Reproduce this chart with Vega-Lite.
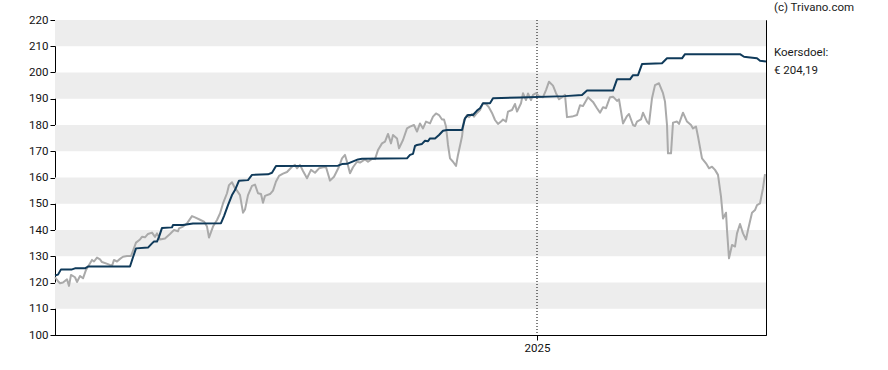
{
  "$schema": "https://vega.github.io/schema/vega-lite/v6.json",
  "width": 711,
  "height": 315,
  "autosize": {"type": "none"},
  "padding": {"left": 55, "top": 20, "right": 122, "bottom": 35},
  "background": "white",
  "config": {
    "view": {"stroke": "#000000", "strokeWidth": 1},
    "font": "Roboto",
    "axis": {"labelFont": "Roboto", "labelFontSize": 11.5, "labelColor": "#111111", "domainColor": "#000000", "tickColor": "#000000", "grid": false, "title": null, "tickSize": 5, "labelPadding": 2, "labelOverlap": false, "labelFlush": false},
    "axisY": {"values": [100, 110, 120, 130, 140, 150, 160, 170, 180, 190, 200, 210, 220], "tickCount": 12, "labelOverlap": false}
  },
  "datasets": {
    "bands": [
      {"lo": 110, "hi": 120}, {"lo": 130, "hi": 140}, {"lo": 150, "hi": 160},
      {"lo": 170, "hi": 180}, {"lo": 190, "hi": 200}, {"lo": 210, "hi": 220}
    ],
    "koers": [
      {"d": "2023-09-07", "v": 122.0}, {"d": "2023-09-10", "v": 120.5}, {"d": "2023-09-12", "v": 119.7}, {"d": "2023-09-15", "v": 120.0},
      {"d": "2023-09-19", "v": 121.2}, {"d": "2023-09-21", "v": 118.7}, {"d": "2023-09-23", "v": 122.9}, {"d": "2023-09-27", "v": 122.0},
      {"d": "2023-09-29", "v": 120.2}, {"d": "2023-10-02", "v": 122.5}, {"d": "2023-10-05", "v": 121.6}, {"d": "2023-10-08", "v": 124.8},
      {"d": "2023-10-11", "v": 126.7}, {"d": "2023-10-14", "v": 128.6}, {"d": "2023-10-16", "v": 128.0}, {"d": "2023-10-19", "v": 129.5},
      {"d": "2023-10-22", "v": 128.8}, {"d": "2023-10-24", "v": 127.8}, {"d": "2023-10-30", "v": 127.0}, {"d": "2023-11-03", "v": 126.3},
      {"d": "2023-11-05", "v": 128.6}, {"d": "2023-11-08", "v": 128.0}, {"d": "2023-11-11", "v": 129.0}, {"d": "2023-11-14", "v": 129.8},
      {"d": "2023-11-18", "v": 130.1}, {"d": "2023-11-22", "v": 130.1}, {"d": "2023-11-24", "v": 132.1}, {"d": "2023-11-27", "v": 135.2},
      {"d": "2023-12-01", "v": 136.4}, {"d": "2023-12-03", "v": 137.4}, {"d": "2023-12-06", "v": 137.2}, {"d": "2023-12-09", "v": 138.5},
      {"d": "2023-12-13", "v": 139.0}, {"d": "2023-12-16", "v": 137.4}, {"d": "2023-12-18", "v": 138.7}, {"d": "2023-12-21", "v": 136.4},
      {"d": "2023-12-26", "v": 136.8}, {"d": "2023-12-31", "v": 138.5}, {"d": "2024-01-04", "v": 140.0}, {"d": "2024-01-08", "v": 139.5},
      {"d": "2024-01-09", "v": 140.6}, {"d": "2024-01-13", "v": 141.3}, {"d": "2024-01-17", "v": 142.5}, {"d": "2024-01-22", "v": 145.3},
      {"d": "2024-01-25", "v": 144.8}, {"d": "2024-01-30", "v": 143.9}, {"d": "2024-02-03", "v": 143.2}, {"d": "2024-02-06", "v": 141.3},
      {"d": "2024-02-08", "v": 137.1}, {"d": "2024-02-12", "v": 141.3}, {"d": "2024-02-16", "v": 143.8}, {"d": "2024-02-19", "v": 146.3},
      {"d": "2024-02-22", "v": 150.1}, {"d": "2024-02-26", "v": 154.0}, {"d": "2024-02-28", "v": 157.1}, {"d": "2024-03-02", "v": 158.2},
      {"d": "2024-03-05", "v": 155.9}, {"d": "2024-03-07", "v": 155.0}, {"d": "2024-03-10", "v": 153.3}, {"d": "2024-03-13", "v": 146.6},
      {"d": "2024-03-15", "v": 147.8}, {"d": "2024-03-18", "v": 153.3}, {"d": "2024-03-22", "v": 156.8}, {"d": "2024-03-25", "v": 157.3},
      {"d": "2024-03-28", "v": 154.0}, {"d": "2024-03-31", "v": 153.7}, {"d": "2024-04-02", "v": 150.4}, {"d": "2024-04-04", "v": 153.0},
      {"d": "2024-04-09", "v": 153.7}, {"d": "2024-04-12", "v": 155.0}, {"d": "2024-04-15", "v": 158.5}, {"d": "2024-04-18", "v": 160.6},
      {"d": "2024-04-22", "v": 161.5}, {"d": "2024-04-26", "v": 162.1}, {"d": "2024-05-01", "v": 164.1}, {"d": "2024-05-04", "v": 164.8},
      {"d": "2024-05-06", "v": 163.5}, {"d": "2024-05-09", "v": 164.8}, {"d": "2024-05-12", "v": 162.5}, {"d": "2024-05-16", "v": 159.7},
      {"d": "2024-05-20", "v": 162.9}, {"d": "2024-05-24", "v": 161.8}, {"d": "2024-05-28", "v": 163.5}, {"d": "2024-06-01", "v": 163.9},
      {"d": "2024-06-04", "v": 164.0}, {"d": "2024-06-08", "v": 158.8}, {"d": "2024-06-12", "v": 160.3}, {"d": "2024-06-17", "v": 164.1},
      {"d": "2024-06-20", "v": 167.3}, {"d": "2024-06-23", "v": 168.6}, {"d": "2024-06-25", "v": 166.0}, {"d": "2024-06-28", "v": 161.6},
      {"d": "2024-07-01", "v": 163.9}, {"d": "2024-07-05", "v": 166.0}, {"d": "2024-07-08", "v": 165.7}, {"d": "2024-07-13", "v": 166.9},
      {"d": "2024-07-16", "v": 166.0}, {"d": "2024-07-20", "v": 167.1}, {"d": "2024-07-23", "v": 167.0}, {"d": "2024-07-26", "v": 170.5},
      {"d": "2024-07-30", "v": 173.0}, {"d": "2024-08-02", "v": 173.7}, {"d": "2024-08-05", "v": 176.6}, {"d": "2024-08-08", "v": 173.0},
      {"d": "2024-08-10", "v": 176.2}, {"d": "2024-08-14", "v": 174.9}, {"d": "2024-08-16", "v": 171.1}, {"d": "2024-08-20", "v": 174.3},
      {"d": "2024-08-24", "v": 178.7}, {"d": "2024-08-27", "v": 179.4}, {"d": "2024-08-31", "v": 180.0}, {"d": "2024-09-03", "v": 177.5},
      {"d": "2024-09-06", "v": 180.6}, {"d": "2024-09-09", "v": 178.7}, {"d": "2024-09-12", "v": 181.3}, {"d": "2024-09-16", "v": 180.6},
      {"d": "2024-09-19", "v": 183.2}, {"d": "2024-09-22", "v": 184.4}, {"d": "2024-09-25", "v": 183.8}, {"d": "2024-09-28", "v": 182.1},
      {"d": "2024-09-30", "v": 182.1}, {"d": "2024-10-02", "v": 179.4}, {"d": "2024-10-04", "v": 172.4}, {"d": "2024-10-06", "v": 167.3},
      {"d": "2024-10-09", "v": 166.0}, {"d": "2024-10-12", "v": 164.4}, {"d": "2024-10-14", "v": 168.6}, {"d": "2024-10-18", "v": 175.6},
      {"d": "2024-10-20", "v": 181.9}, {"d": "2024-10-23", "v": 183.8}, {"d": "2024-10-25", "v": 183.0}, {"d": "2024-10-28", "v": 184.2},
      {"d": "2024-10-30", "v": 183.2}, {"d": "2024-11-02", "v": 184.6}, {"d": "2024-11-05", "v": 185.7}, {"d": "2024-11-08", "v": 188.3},
      {"d": "2024-11-11", "v": 188.0}, {"d": "2024-11-14", "v": 186.7}, {"d": "2024-11-17", "v": 184.6}, {"d": "2024-11-20", "v": 181.9},
      {"d": "2024-11-23", "v": 180.4}, {"d": "2024-11-26", "v": 181.3}, {"d": "2024-11-28", "v": 182.1}, {"d": "2024-12-01", "v": 181.3},
      {"d": "2024-12-03", "v": 185.1}, {"d": "2024-12-07", "v": 185.7}, {"d": "2024-12-10", "v": 188.0}, {"d": "2024-12-12", "v": 185.1},
      {"d": "2024-12-16", "v": 188.3}, {"d": "2024-12-18", "v": 192.1}, {"d": "2024-12-21", "v": 189.5}, {"d": "2024-12-23", "v": 192.0},
      {"d": "2024-12-26", "v": 189.5}, {"d": "2024-12-28", "v": 191.5}, {"d": "2024-12-31", "v": 192.1}, {"d": "2025-01-03", "v": 191.0},
      {"d": "2025-01-07", "v": 190.6}, {"d": "2025-01-10", "v": 193.3}, {"d": "2025-01-13", "v": 196.5}, {"d": "2025-01-17", "v": 195.0},
      {"d": "2025-01-20", "v": 192.1}, {"d": "2025-01-23", "v": 189.8}, {"d": "2025-01-27", "v": 190.8}, {"d": "2025-01-29", "v": 191.5},
      {"d": "2025-01-31", "v": 183.0}, {"d": "2025-02-05", "v": 183.2}, {"d": "2025-02-10", "v": 183.8}, {"d": "2025-02-13", "v": 187.5},
      {"d": "2025-02-16", "v": 187.2}, {"d": "2025-02-21", "v": 190.6}, {"d": "2025-02-26", "v": 188.8}, {"d": "2025-03-02", "v": 186.4},
      {"d": "2025-03-05", "v": 184.7}, {"d": "2025-03-08", "v": 186.8}, {"d": "2025-03-11", "v": 186.4}, {"d": "2025-03-15", "v": 190.6},
      {"d": "2025-03-18", "v": 190.8}, {"d": "2025-03-22", "v": 189.2}, {"d": "2025-03-24", "v": 189.8}, {"d": "2025-03-28", "v": 180.6},
      {"d": "2025-04-01", "v": 183.4}, {"d": "2025-04-03", "v": 184.2}, {"d": "2025-04-07", "v": 180.0}, {"d": "2025-04-09", "v": 179.6},
      {"d": "2025-04-11", "v": 181.3}, {"d": "2025-04-15", "v": 182.1}, {"d": "2025-04-17", "v": 184.7}, {"d": "2025-04-21", "v": 181.3},
      {"d": "2025-04-23", "v": 180.4}, {"d": "2025-04-26", "v": 190.2}, {"d": "2025-04-29", "v": 195.2}, {"d": "2025-05-03", "v": 195.9},
      {"d": "2025-05-07", "v": 192.1}, {"d": "2025-05-09", "v": 188.9}, {"d": "2025-05-11", "v": 180.0}, {"d": "2025-05-12", "v": 169.2},
      {"d": "2025-05-15", "v": 169.2}, {"d": "2025-05-17", "v": 180.9}, {"d": "2025-05-21", "v": 181.3}, {"d": "2025-05-23", "v": 180.4},
      {"d": "2025-05-27", "v": 184.7}, {"d": "2025-05-31", "v": 181.3}, {"d": "2025-06-04", "v": 180.0}, {"d": "2025-06-06", "v": 178.7},
      {"d": "2025-06-09", "v": 179.4}, {"d": "2025-06-11", "v": 175.6}, {"d": "2025-06-15", "v": 167.3}, {"d": "2025-06-19", "v": 165.4},
      {"d": "2025-06-22", "v": 163.5}, {"d": "2025-06-25", "v": 164.1}, {"d": "2025-06-28", "v": 162.9}, {"d": "2025-07-01", "v": 161.0},
      {"d": "2025-07-04", "v": 152.7}, {"d": "2025-07-06", "v": 144.4}, {"d": "2025-07-09", "v": 146.6}, {"d": "2025-07-10", "v": 140.0},
      {"d": "2025-07-12", "v": 129.2}, {"d": "2025-07-15", "v": 134.3}, {"d": "2025-07-18", "v": 133.7}, {"d": "2025-07-20", "v": 138.7},
      {"d": "2025-07-23", "v": 142.3}, {"d": "2025-07-26", "v": 138.7}, {"d": "2025-07-29", "v": 136.4}, {"d": "2025-07-31", "v": 140.0},
      {"d": "2025-08-04", "v": 146.6}, {"d": "2025-08-07", "v": 147.6}, {"d": "2025-08-09", "v": 149.5}, {"d": "2025-08-12", "v": 150.1},
      {"d": "2025-08-15", "v": 155.9}, {"d": "2025-08-17", "v": 161.3}
    ],
    "doel": [
      {"d": "2023-09-07", "v": 122.7}, {"d": "2023-09-10", "v": 123.0}, {"d": "2023-09-13", "v": 125.0}, {"d": "2023-09-24", "v": 125.0},
      {"d": "2023-09-27", "v": 125.4}, {"d": "2023-10-07", "v": 125.4}, {"d": "2023-10-10", "v": 126.1}, {"d": "2023-11-21", "v": 126.1},
      {"d": "2023-11-24", "v": 129.6}, {"d": "2023-11-27", "v": 133.0}, {"d": "2023-12-09", "v": 133.3}, {"d": "2023-12-13", "v": 134.9},
      {"d": "2023-12-15", "v": 135.6}, {"d": "2023-12-18", "v": 135.6}, {"d": "2023-12-20", "v": 137.4}, {"d": "2023-12-23", "v": 140.8},
      {"d": "2024-01-02", "v": 141.0}, {"d": "2024-01-03", "v": 141.9}, {"d": "2024-01-13", "v": 141.9}, {"d": "2024-01-23", "v": 142.5},
      {"d": "2024-02-20", "v": 142.6}, {"d": "2024-02-23", "v": 145.3}, {"d": "2024-02-27", "v": 149.5}, {"d": "2024-03-02", "v": 153.3},
      {"d": "2024-03-05", "v": 155.2}, {"d": "2024-03-09", "v": 158.8}, {"d": "2024-03-18", "v": 159.0}, {"d": "2024-03-22", "v": 161.0},
      {"d": "2024-04-07", "v": 161.2}, {"d": "2024-04-11", "v": 161.8}, {"d": "2024-04-15", "v": 164.4}, {"d": "2024-06-16", "v": 164.5},
      {"d": "2024-06-20", "v": 165.1}, {"d": "2024-06-25", "v": 165.2}, {"d": "2024-07-06", "v": 166.9}, {"d": "2024-07-10", "v": 167.1},
      {"d": "2024-08-24", "v": 167.3}, {"d": "2024-08-27", "v": 168.6}, {"d": "2024-08-30", "v": 169.0}, {"d": "2024-09-01", "v": 172.0},
      {"d": "2024-09-03", "v": 172.4}, {"d": "2024-09-08", "v": 172.8}, {"d": "2024-09-11", "v": 174.0}, {"d": "2024-09-14", "v": 173.8},
      {"d": "2024-09-16", "v": 174.9}, {"d": "2024-09-21", "v": 174.9}, {"d": "2024-09-25", "v": 176.2}, {"d": "2024-09-29", "v": 177.8},
      {"d": "2024-10-03", "v": 178.1}, {"d": "2024-10-18", "v": 178.1}, {"d": "2024-10-21", "v": 182.5}, {"d": "2024-10-24", "v": 183.8},
      {"d": "2024-10-29", "v": 183.8}, {"d": "2024-11-02", "v": 185.5}, {"d": "2024-11-05", "v": 186.4}, {"d": "2024-11-08", "v": 188.3},
      {"d": "2024-11-15", "v": 188.3}, {"d": "2024-11-18", "v": 190.2}, {"d": "2024-12-15", "v": 190.5}, {"d": "2025-01-29", "v": 191.0},
      {"d": "2025-02-15", "v": 191.4}, {"d": "2025-02-20", "v": 193.1}, {"d": "2025-03-18", "v": 193.1}, {"d": "2025-03-22", "v": 197.4},
      {"d": "2025-04-04", "v": 197.4}, {"d": "2025-04-07", "v": 199.0}, {"d": "2025-04-12", "v": 199.0}, {"d": "2025-04-16", "v": 203.2},
      {"d": "2025-05-06", "v": 203.5}, {"d": "2025-05-11", "v": 205.4}, {"d": "2025-05-26", "v": 205.4}, {"d": "2025-05-29", "v": 207.0},
      {"d": "2025-07-23", "v": 207.0}, {"d": "2025-07-27", "v": 206.0}, {"d": "2025-07-31", "v": 205.8}, {"d": "2025-08-09", "v": 205.4},
      {"d": "2025-08-12", "v": 204.5}, {"d": "2025-08-18", "v": 204.19}
    ],
    "year": [{"d": "2025-01-01"}],
    "notes": [
      {"d": "2025-08-26", "v": 224.5, "t": "(c) Trivano.com"},
      {"d": "2025-08-26", "v": 207.5, "t": "Koersdoel:"},
      {"d": "2025-08-26", "v": 200.7, "t": "€ 204,19"}
    ]
  },
  "layer": [
    {
      "data": {"name": "bands"},
      "mark": {"type": "rect", "color": "#ededed"},
      "encoding": {
        "y": {"field": "lo", "type": "quantitative", "scale": {"domain": [100, 220], "nice": false, "zero": false}},
        "y2": {"field": "hi"}
      }
    },
    {
      "data": {"name": "year"},
      "mark": {"type": "rule", "color": "#000000", "strokeWidth": 1, "strokeDash": [1, 2]},
      "encoding": {
        "x": {"field": "d", "type": "temporal", "scale": {"type": "utc", "domain": [{"year": 2023, "month": 9, "date": 7, "utc": true}, {"year": 2025, "month": 8, "date": 18, "utc": true}]},
          "axis": {"values": [{"year": 2025, "month": 1, "date": 1, "utc": true}], "format": "%Y"}}
      }
    },
    {
      "data": {"name": "koers"},
      "mark": {"type": "line", "color": "#aaaaaa", "strokeWidth": 2, "strokeJoin": "round"},
      "encoding": {
        "x": {"field": "d", "type": "temporal"},
        "y": {"field": "v", "type": "quantitative"}
      }
    },
    {
      "data": {"name": "doel"},
      "mark": {"type": "line", "color": "#0f3a5a", "strokeWidth": 2, "strokeJoin": "round"},
      "encoding": {
        "x": {"field": "d", "type": "temporal"},
        "y": {"field": "v", "type": "quantitative"}
      }
    },
    {
      "data": {"name": "notes"},
      "mark": {"type": "text", "align": "left", "baseline": "middle", "fontSize": 11.5, "color": "#1a1a1a", "font": "Roboto"},
      "encoding": {
        "x": {"field": "d", "type": "temporal"},
        "y": {"field": "v", "type": "quantitative"},
        "text": {"field": "t"}
      }
    }
  ]
}
